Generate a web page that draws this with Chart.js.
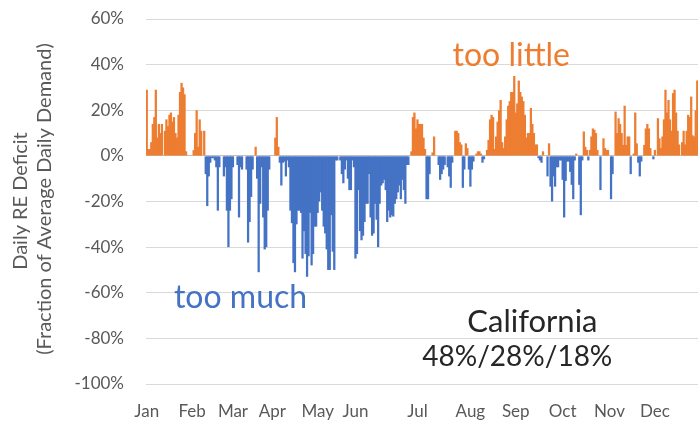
<!DOCTYPE html>
<html>
<head>
<meta charset="utf-8">
<script src="https://cdn.jsdelivr.net/npm/chart.js@4.4.0/dist/chart.umd.min.js"></script>
<style>
  html, body { margin: 0; padding: 0; background: #fff; }
  #wrap { width: 700px; height: 424px; }
</style>
</head>
<body>
<div id="wrap"><canvas id="graficoDeficit"></canvas></div>
<script>
// month names and the day index each name sits under
const monthLabels = ['Jan', 'Feb', 'Mar', 'Apr', 'May', 'Jun', 'Jul', 'Aug', 'Sep', 'Oct', 'Nov', 'Dec'];
const monthLabelDays = [0, 30, 57, 83, 113, 138, 179, 214, 244, 275, 306, 336];
const yTicks = [60, 40, 20, 0, -20, -40, -60, -80, -100];

// daily RE deficit, % of average daily demand (365 days)
const dailyDeficit = [
  29, 3, 3, 6, 14, 17, 29, 8, 14, 10,
  14, 0, 11, 16, 13, 18, 19, 15, 17, 10,
  8, 18, 28, 32, 30, 27, 2, 0, 0, 0,
  0, 2.5, 10, 20, 4, 16, 11, 0, 11, -8,
  -22, -9, -3,
  -1, -1, -2, -5, -24, -5, 0,
  0, -9, -5, -24, -40, -24, -19, -5, 0, 0,
  -4, -27, -5, -6, 0, 0, -6, -38, -29, -18,
  -6, 0, 4, -10, -51, -21, -5, -27, -41, -40,
  -24, -6, 0, 0, 0, 8, 17, 4, -3,
  -13, -3, -2.5, -9, -2, -5, -24, -29.5, -47, -51,
  -30, -24, -24, -25, -45, -33, -43, -53, -44, -25,
  -48, -43, -31, -31, -25, -20, -16, -24, -31, -34,
  -41, -50, -50, -26, -42, -50, -2, -2, 0, -2,
  -8, -12, -6, -2, -10, -15,
  -15, -2, -5, -45, -43, -15, -33, -37, -35, -29,
  -21, -21, -8, -27, -35, -34, -21, -28, -40, -21,
  -13, -12, -10.5, -15, -29, -24, -27, -26, -26.6, -21,
  -19, -16, -13, -19, -10.5, -15, -21, -4, -4,
  0, 2, 17, 19, 12, 16, 14, 14, 14, 8, 3, -19, -19, -8, 0, 1.5, 8.5,
  0, 0, -4, -10.5, -8, -6, -4, 0, -5, -9,
  -14, -3, 0, 11, 11, 10, 6, 5, -14, -6,
  5.5, 3.4, -6, -13.5, -6, -2.5, 0, 1, 2, 2,
  1, -3, -1.5, 0, 2.6, 7, 16,
  18, 17, 3, 8.5, 15, 20, 24.5, 6, 3.4, 8.5,
  16, 22, 24, 28, 28, 35, 19, 23, 33, 28,
  26, 24, 18, 8, 10, 10, 21, 14, 10, 5,
  5, -1, -2, -3, 2, 0, 0, -9, 5.5, -13.5,
  -20, -9, -13.5, -5, -5,
  -2, -2, -10.5, -27, -11, -2.5, -2.5, -7, -12.7, -19,
  -2, 1, 0, -12.7, -26, -2, 10.7, 4, 2.6, -2,
  2.6, 8.5, 12, 11.4, 10, 2.6, 0, -15, 0, 7.7,
  3.4, 2.6, 2.6, 0, -19, -8, 0, 19.4, 10, 16.5,
  14, 10, 4.8, 22, 4.8, 8.5, 8.5,
  -8, 0, 1, 19, 5.5, -3, -9, -2.5, 0, 4.8,
  12, 14, 12, 3.4, 0, -1.5, 2.6, 0, 16.5, 7.7,
  3.4, 8.5, 16, 29, 19, 24.5, 16, 11, 27.5, 29,
  19, 11, 5, 0, 6, 11, 5, 11, 18, 17,
  26, 9, 8.5, 20, 33
];

const dias = dailyDeficit.map((v, i) => i);
const fuente = 'Lato, "Open Sans", sans-serif';
const gris = '#595959';

// texts drawn on top of the bars: axis title and notes
const notas = {
  id: 'notas',
  afterDatasetsDraw(chart) {
    const { ctx, scales: { x, y } } = chart;
    ctx.save();
    ctx.textAlign = 'center';
    ctx.textBaseline = 'middle';

    ctx.font = '32px ' + fuente;
    ctx.fillStyle = '#ED7D31';
    ctx.fillText('too little', x.getPixelForValue(241), y.getPixelForValue(44));
    ctx.fillStyle = '#4472C4';
    ctx.fillText('too much', x.getPixelForValue(62), y.getPixelForValue(-62));

    ctx.fillStyle = '#262626';
    ctx.font = '31px ' + fuente;
    ctx.fillText('California', x.getPixelForValue(255), y.getPixelForValue(-73));
    ctx.font = '28px ' + fuente;
    ctx.fillText('48%/28%/18%', x.getPixelForValue(245), y.getPixelForValue(-88));

    // y title, two lines
    ctx.fillStyle = gris;
    ctx.font = '20px ' + fuente;
    ctx.translate(21, 201);
    ctx.rotate(-Math.PI / 2);
    ctx.fillText('Daily RE Deficit', 0, 0);
    ctx.fillText('(Fraction of Average Daily Demand)', 2, 24);
    ctx.restore();
  }
};

new Chart(document.getElementById('graficoDeficit'), {
  type: 'bar',
  data: {
    labels: dias,
    datasets: [{
      label: 'Daily RE Deficit',
      data: dailyDeficit,
      backgroundColor: dailyDeficit.map(v => v >= 0 ? '#ED7D31' : '#4472C4'),
      borderWidth: 0,
      barPercentage: 1.5,
      categoryPercentage: 1
    }]
  },
  options: {
    responsive: true,
    maintainAspectRatio: false,
    animation: false,
    devicePixelRatio: 1,
    layout: { padding: { top: 19, right: 2, left: 0, bottom: 0 } },
    plugins: { legend: { display: false }, tooltip: { enabled: false } },
    scales: {
      x: {
        grid: { display: false, drawTicks: false },
        border: { display: false },
        ticks: {
          autoSkip: false,
          maxRotation: 0,
          minRotation: 0,
          padding: 17,
          color: gris,
          font: { family: fuente, size: 17 },
          callback: (v, i) => {
            const k = monthLabelDays.indexOf(i);
            return k >= 0 ? monthLabels[k] : '';
          }
        },
        afterFit: s => { s.height = 40; s.paddingLeft = 0; s.paddingRight = 0; }
      },
      y: {
        min: -100,
        max: 60,
        afterBuildTicks: s => { s.ticks = yTicks.map(v => ({ value: v })); },
        grid: {
          drawTicks: false,
          color: c => c.tick && c.tick.value === 0 ? '#bfbfbf' : '#d9d9d9'
        },
        border: { display: false },
        ticks: {
          padding: 22,
          color: gris,
          font: { family: fuente, size: 17 },
          callback: v => v + '%'
        },
        afterFit: s => { s.width = 146; s.paddingTop = 0; s.paddingBottom = 0; }
      }
    }
  },
  plugins: [notas]
});
</script>
</body>
</html>
